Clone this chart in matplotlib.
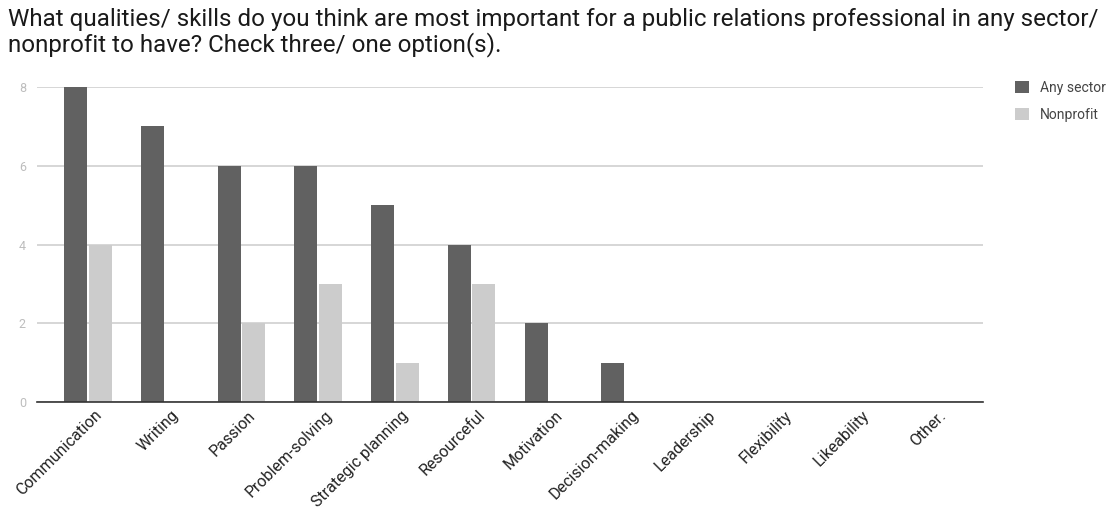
import matplotlib
matplotlib.use("Agg")
import matplotlib.pyplot as plt
import numpy as np

categories = ["Communication", "Writing", "Passion", "Problem-solving",
              "Strategic planning", "Resourceful", "Motivation",
              "Decision-making", "Leadership", "Flexibility", "Likeability",
              "Other."]
any_sector = [8, 7, 6, 6, 5, 4, 2, 1, 0, 0, 0, 0]
nonprofit = [4, 0, 2, 3, 1, 3, 0, 0, 0, 0, 0, 0]
y_ticks = [0, 2, 4, 6, 8]

title = ("What qualities/ skills do you think are most important for a public "
         "relations professional in any sector/\nnonprofit to have? Check three/ one option(s).")

plt.rcParams["font.family"] = ["Roboto", "DejaVu Sans"]

fig = plt.figure(figsize=(11.11, 5.08), dpi=100)
ax = fig.add_axes([0.0333, 0.2087, 0.8515, 0.62])

x = np.arange(len(categories))
w = 0.3
ax.bar(x - w / 2 - 0.01, any_sector, width=w, color="#616161", label="Any sector", zorder=3)
ax.bar(x + w / 2 + 0.01, nonprofit, width=w, color="#cccccc", label="Nonprofit", zorder=3)

ax.set_xlim(-0.665, len(categories) - 1 + 0.665)
ax.set_ylim(0, 8)
ax.set_yticks(y_ticks)
ax.set_yticklabels([str(v) for v in y_ticks], color="#bdbdbd", fontsize=9)
ax.yaxis.grid(True, color="#d0d0d0", linewidth=1.2, zorder=0)
ax.tick_params(axis="y", length=0, pad=8)
ax.tick_params(axis="x", length=0, pad=4)

ax.set_xticks(x + 0.08)
ax.set_xticklabels(categories, rotation=45, ha="right", rotation_mode="anchor",
                   fontsize=11.5, color="#222222")

for s in ["top", "right", "left"]:
    ax.spines[s].set_visible(False)
ax.spines["bottom"].set_color("#333333")
ax.spines["bottom"].set_linewidth(1.2)
ax.spines["bottom"].set_zorder(4)

fig.text(0.007, 0.985, title, fontsize=17.4, color="#1a1a1a", va="top", ha="left",
         linespacing=1.1)

leg = fig.legend(loc="upper left", bbox_to_anchor=(0.902, 0.866), frameon=False,
                 fontsize=10, handlelength=1.0, handleheight=1.0,
                 handletextpad=0.8, labelspacing=0.95)
for t in leg.get_texts():
    t.set_color("#444444")

fig.savefig("out.png", dpi=100, facecolor="white")
